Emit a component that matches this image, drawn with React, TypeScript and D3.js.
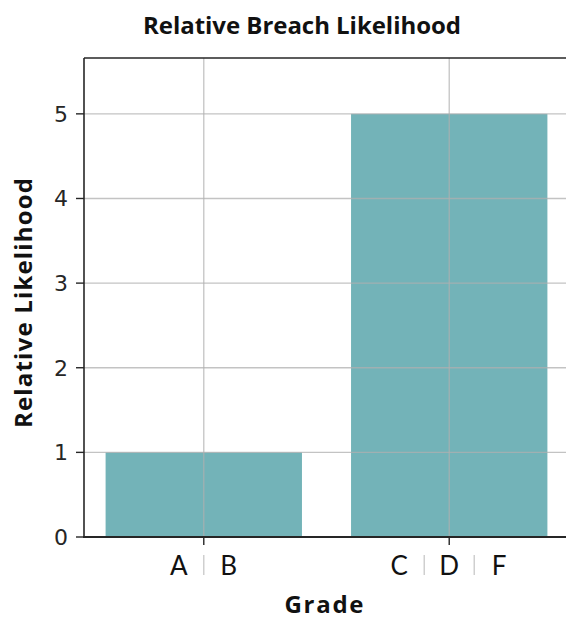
import React from "react";
import * as d3 from "d3";

const categories = ["A|B", "C|D|F"];
const values = [1, 5];
const yTicks = [0, 1, 2, 3, 4, 5];
const title = "Relative Breach Likelihood";
const xLabel = "Grade";
const yLabel = "Relative Likelihood";

const W = 566;
const H = 620;
const left = 84;
const right = 569;
const top = 58;
const bottom = 537;
const yMax = 5.66;

const BAR = "#73b3b8";
const GRID = "#b0b0b0";
const SPINE = "#262626";
const LABEL_FONT = "'Open Sans', Lato, sans-serif";
const TICK_LETTER_FONT = "Lato, 'Open Sans', sans-serif";
const TICK_FONT = "'DejaVu Sans', sans-serif";

export default function App() {
  const x = d3
    .scaleBand<string>()
    .domain(categories)
    .range([left, right])
    .paddingInner(0.2)
    .paddingOuter(0.088);
  const y = d3.scaleLinear().domain([0, yMax]).range([bottom, top]);
  const bw = x.bandwidth();
  const center = (c: string) => (x(c) as number) + bw / 2;

  return (
    <svg
      width={W}
      height={H}
      style={{ position: "absolute", left: 0, top: 0, background: "#fff" }}
    >
      <rect x={0} y={0} width={W} height={H} fill="#fff" />
      {categories.map((c, i) => (
        <rect
          key={c}
          x={x(c)}
          y={y(values[i])}
          width={bw}
          height={y(0) - y(values[i])}
          fill={BAR}
        />
      ))}
      {yTicks.map((t) => (
        <line
          key={"gy" + t}
          x1={left}
          x2={right}
          y1={y(t)}
          y2={y(t)}
          stroke={GRID}
          strokeWidth={1.3}
          opacity={0.75}
        />
      ))}
      {categories.map((c) => (
        <line
          key={"gx" + c}
          x1={center(c)}
          x2={center(c)}
          y1={top}
          y2={bottom}
          stroke={GRID}
          strokeWidth={1.3}
          opacity={0.75}
        />
      ))}
      <line x1={left} x2={left} y1={top} y2={bottom + 1} stroke={SPINE} strokeWidth={1.6} />
      <line x1={left} x2={right} y1={top} y2={top} stroke={SPINE} strokeWidth={1.6} />
      <line x1={right} x2={right} y1={top} y2={bottom} stroke={SPINE} strokeWidth={1.6} />
      <line x1={left - 1} x2={right} y1={bottom} y2={bottom} stroke={SPINE} strokeWidth={2} />
      {yTicks.map((t) => (
        <g key={"ty" + t}>
          <line x1={left - 8} x2={left} y1={y(t)} y2={y(t)} stroke={SPINE} strokeWidth={1.4} />
          <text
            x={left - 16}
            y={y(t)}
            dy="0.36em"
            textAnchor="end"
            fontFamily={TICK_FONT}
            fontSize={22}
            fill="#262626"
          >
            {t}
          </text>
        </g>
      ))}
      {categories.map((c) => {
        const cx = center(c);
        const parts = c.split("|");
        const n = parts.length;
        const step = 50;
        return (
          <g key={"tx" + c}>
            <line x1={cx} x2={cx} y1={bottom} y2={bottom + 8} stroke={SPINE} strokeWidth={1.4} />
            {parts.map((p, i) => (
              <text
                key={p}
                x={cx + (i - (n - 1) / 2) * step}
                y={575}
                textAnchor="middle"
                fontFamily={TICK_LETTER_FONT}
                fontSize={26}
                fill="#111"
              >
                {p}
              </text>
            ))}
            {parts.slice(1).map((p, i) => {
              const sx = cx + (i + 0.5 - (n - 1) / 2) * step;
              return (
                <line
                  key={"s" + p}
                  x1={sx}
                  x2={sx}
                  y1={555}
                  y2={575}
                  stroke="#c8c8c8"
                  strokeWidth={1.3}
                />
              );
            })}
          </g>
        );
      })}
      <text
        x={302}
        y={34}
        textAnchor="middle"
        fontFamily={LABEL_FONT}
        fontWeight={700}
        fontSize={24}
        textLength={318}
        lengthAdjust="spacing"
        fill="#111"
      >
        {title}
      </text>
      <text
        x={324}
        y={613}
        textAnchor="middle"
        fontFamily={LABEL_FONT}
        fontWeight={700}
        fontSize={24}
        textLength={79}
        lengthAdjust="spacing"
        fill="#111"
      >
        {xLabel}
      </text>
      <text
        transform={`translate(32,303) rotate(-90)`}
        textAnchor="middle"
        fontFamily={LABEL_FONT}
        fontWeight={700}
        fontSize={24}
        textLength={250}
        lengthAdjust="spacing"
        fill="#111"
      >
        {yLabel}
      </text>
    </svg>
  );
}
